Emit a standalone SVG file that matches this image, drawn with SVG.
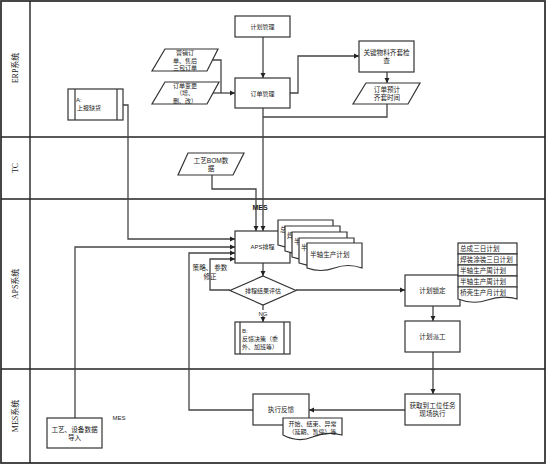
<svg xmlns="http://www.w3.org/2000/svg" width="552" height="465" viewBox="0 0 552 465">
<style>
text{font-family:"Liberation Sans","Noto Sans CJK SC",sans-serif;font-size:6.6px;fill:#1a1a1a}
.lane{font-family:"Liberation Serif","Noto Sans CJK SC",serif;font-size:8px}
.box{fill:#fff;stroke:#333;stroke-width:1.2}
.frame{fill:none;stroke:#333;stroke-width:1.8}
.div{stroke:#222;stroke-width:1.4;fill:none}
.con{fill:none;stroke:#444;stroke-width:1.3}
.mid{text-anchor:middle}
.sm{font-size:6px}
</style>
<defs>
<marker id="arr" markerWidth="6" markerHeight="6" refX="5" refY="3" orient="auto" markerUnits="userSpaceOnUse">
<path d="M0,0.5 L5,3 L0,5.5 Z" fill="#222"/>
</marker>
<path id="doc" d="M0,0 H55 V25 Q41.25,20 27.5,25 T0,25 Z"/>
</defs>

<g id="lanes">
<rect class="frame" x="1" y="1" width="544" height="462"/>
<line class="div" x1="30" y1="1" x2="30" y2="463"/>
<line class="div" x1="1" y1="137" x2="545" y2="137"/>
<line class="div" x1="1" y1="199" x2="545" y2="199"/>
<line class="div" x1="1" y1="369" x2="545" y2="369"/>
<text class="lane mid" transform="translate(18,68) rotate(-90)">ERP系统</text>
<text class="lane mid" transform="translate(18,168) rotate(-90)">TC</text>
<text class="lane mid" transform="translate(18,284) rotate(-90)">APS系统</text>
<text class="lane mid" transform="translate(18,416) rotate(-90)">MES系统</text>
</g>

<g id="connectors">
<path class="con" d="M212,60 H221 V93"/>
<path class="con" d="M213,93 H235" marker-end="url(#arr)"/>
<path class="con" d="M263,37 V78" marker-end="url(#arr)"/>
<path class="con" d="M290,93 H298 V56 H359" marker-end="url(#arr)"/>
<path class="con" d="M387,72 V83" marker-end="url(#arr)"/>
<path class="con" d="M387,104 V117 H263"/>
<path class="con" d="M263,108 V231" marker-end="url(#arr)"/>
<path class="con" d="M212,175 V189 H256 V231" marker-end="url(#arr)"/>
<path class="con" d="M123,105 H128 V239 H235" marker-end="url(#arr)"/>
<path class="con" d="M75,418 V247 H235" marker-end="url(#arr)"/>
<path class="con" d="M253,410 H189 V253 H235" marker-end="url(#arr)"/>
<path class="con" d="M230,290 H210 V259 H235" marker-end="url(#arr)"/>
<path class="con" d="M263,263 V276" marker-end="url(#arr)"/>
<path class="con" d="M296,290 H405" marker-end="url(#arr)"/>
<path class="con" d="M263,305 V322" marker-end="url(#arr)"/>
<path class="con" d="M433,306 V321" marker-end="url(#arr)"/>
<path class="con" d="M433,352 V394" marker-end="url(#arr)"/>
<path class="con" d="M405,410 H309" marker-end="url(#arr)"/>
<rect x="257" y="310" width="12" height="6" fill="#fff"/>
<text class="mid sm" x="263" y="316">NG</text>
<text class="mid" x="210" y="270">策略、 参数</text>
<text class="mid" x="210" y="279">修正</text>
<text class="mid" x="260" y="210" style="font-weight:bold;font-size:7px">MES</text>
<text class="mid sm" x="119" y="420">MES</text>
</g>

<g id="n-jihua">
<rect class="box" x="235" y="16" width="55" height="21"/>
<text class="mid sm" x="262.5" y="29">计划管理</text>
</g>
<g id="n-yingxiao">
<path class="box" d="M165,49 H218 L207,71 H152 Z"/>
<text class="mid sm" x="185" y="54.5">营销订</text>
<text class="mid sm" x="185" y="62.5">单、售后</text>
<text class="mid sm" x="185" y="70">三包订单</text>
</g>
<g id="n-biangeng">
<path class="box" d="M165,82 H219 L207,104 H152 Z"/>
<text class="mid sm" x="185" y="87.5">订单变更</text>
<text class="mid sm" x="185" y="95">（增、</text>
<text class="mid sm" x="185" y="102.5">删、改）</text>
</g>
<g id="n-dingdan">
<rect class="box" x="235" y="78" width="55" height="30"/>
<text class="mid sm" x="262.5" y="95.5">订单管理</text>
</g>
<g id="n-guanjian">
<rect class="box" x="359" y="41" width="55" height="31"/>
<text class="mid" x="386.5" y="54.5">关键物料齐套检</text>
<text class="mid" x="386.5" y="62.5">查</text>
</g>
<g id="n-yuji">
<path class="box" d="M366,83 H420 L408,104 H353 Z"/>
<text class="mid" x="387" y="91.5">订单预计</text>
<text class="mid" x="387" y="99.5">齐套时间</text>
</g>
<g id="n-a">
<rect class="box" x="68" y="89" width="55" height="31"/>
<line class="box" x1="75" y1="89" x2="75" y2="120"/>
<line class="box" x1="117" y1="89" x2="117" y2="120"/>
<text class="sm" x="76" y="102" fill="#533">A:</text>
<text class="sm" x="77" y="110">上报缺货</text>
</g>
<g id="n-bom">
<path class="box" d="M188,153 H244 L233,175 H178 Z"/>
<text class="mid" x="211" y="162.5">工艺BOM数</text>
<text class="mid" x="211" y="170.5">据</text>
</g>
<g id="n-aps">
<rect class="box" x="235" y="231" width="55" height="32"/>
<text class="mid sm" x="262.5" y="249">APS排程</text>
</g>
<g id="n-docs">
<use href="#doc" class="box" x="278" y="220"/>
<text x="280" y="232">总成三日计划</text>
<use href="#doc" class="box" x="285" y="226"/>
<text x="287" y="238">焊装涂装三日计划</text>
<use href="#doc" class="box" x="292" y="232"/>
<text x="294" y="244">半轴生产周计划</text>
<use href="#doc" class="box" x="299" y="238"/>
<text x="301" y="250">半轴生产周计划</text>
<path class="box" d="M307,243 H362 V268 Q348.25,263 334.5,268 T307,268 Z"/>
<text x="310" y="257">半轴生产计划</text>
</g>
<g id="n-pinggu">
<path class="box" d="M263,276 L296,290.5 L263,305 L230,290.5 Z"/>
<text class="mid sm" x="263" y="292.5">排程结果评估</text>
</g>
<g id="n-b">
<rect class="box" x="235" y="322" width="55" height="32"/>
<line class="box" x1="240" y1="322" x2="240" y2="354"/>
<line class="box" x1="284" y1="322" x2="284" y2="354"/>
<text class="sm" x="242" y="333">B:</text>
<text class="sm" x="242" y="341">反馈决策（委</text>
<text class="sm" x="242" y="349">外、加班等）</text>
</g>
<g id="n-suoding">
<rect class="box" x="405" y="275" width="55" height="31"/>
<text class="mid" x="432.5" y="293">计划锁定</text>
</g>
<g id="n-list">
<rect class="box" x="458" y="243" width="59" height="11"/>
<text x="460" y="251">总成三日计划</text>
<rect class="box" x="458" y="254" width="59" height="11"/>
<text x="460" y="262">焊装涂装三日计划</text>
<rect class="box" x="458" y="265" width="59" height="11"/>
<text x="460" y="273">半轴生产周计划</text>
<rect class="box" x="458" y="276" width="59" height="11"/>
<text x="460" y="284">半轴生产周计划</text>
<path class="box" d="M458,287 H517 V299 Q502,295 487.5,300 T458,299 Z"/>
<text x="460" y="295">桥壳生产月计划</text>
</g>
<g id="n-paigong">
<rect class="box" x="405" y="321" width="55" height="31"/>
<text class="mid" x="432.5" y="338.5">计划派工</text>
</g>
<g id="n-huoqu">
<rect class="box" x="405" y="394" width="55" height="31"/>
<text class="mid" x="432.5" y="407.5">获取到工位任务</text>
<text class="mid" x="432.5" y="415.5">现场执行</text>
</g>
<g id="n-fankui">
<rect class="box" x="253" y="394" width="56" height="31"/>
<text class="mid" x="281" y="412">执行反馈</text>
</g>
<g id="n-kaishi">
<path class="box" d="M283,418 H342 V435 Q327,431 312.5,437 T283,435 Z"/>
<text class="mid sm" x="312.5" y="425.5">开始、结束、异常</text>
<text class="mid sm" x="312.5" y="433.5">（延期、暂停）等</text>
</g>
<g id="n-gongyi">
<rect class="box" x="47" y="418" width="55" height="30"/>
<text class="mid" x="74.5" y="431.5">工艺、设备数据</text>
<text class="mid" x="74.5" y="439.5">导入</text>
</g>
</svg>
